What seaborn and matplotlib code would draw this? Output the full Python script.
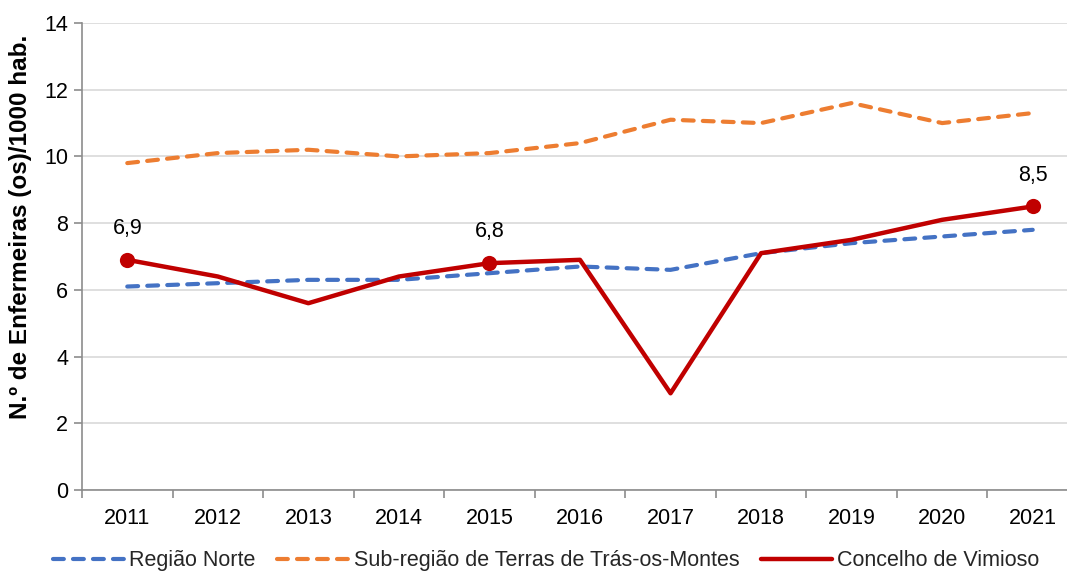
import matplotlib
matplotlib.use("Agg")
import matplotlib.pyplot as plt
from matplotlib.ticker import FixedLocator, MultipleLocator, NullFormatter
import seaborn as sns
import pandas as pd

# Enfermeiros(as) por 1000 habitantes
anos = ["2011", "2012", "2013", "2014", "2015", "2016", "2017", "2018", "2019", "2020", "2021"]
regiao_norte = [6.1, 6.2, 6.3, 6.3, 6.5, 6.7, 6.6, 7.1, 7.4, 7.6, 7.8]
terras_tras_os_montes = [9.8, 10.1, 10.2, 10.0, 10.1, 10.4, 11.1, 11.0, 11.6, 11.0, 11.3]
vimioso = [6.9, 6.4, 5.6, 6.4, 6.8, 6.9, 2.9, 7.1, 7.5, 8.1, 8.5]
anos_destacados = ["2011", "2015", "2021"]

series_nomes = ["Região Norte", "Sub-região de Terras de Trás-os-Montes", "Concelho de Vimioso"]
cores = ["#4472C4", "#ED7D31", "#C00000"]

sns.set_theme(style="white")
plt.rcParams["font.family"] = ["Liberation Sans", "DejaVu Sans"]

fig = plt.figure(figsize=(10.67, 5.72), dpi=100)
ax = fig.add_axes([82 / 1067, 82 / 572, 996 / 1067, 467 / 572])

pos = list(range(len(anos)))
df = pd.DataFrame({
    "pos": pos,
    "ano": anos,
    "norte": regiao_norte,
    "tmt": terras_tras_os_montes,
    "vimioso": vimioso,
})

tracejado = dict(linewidth=3.0, linestyle=(0, (2.6, 2.2)), dash_capstyle="round")
sns.lineplot(data=df, x="pos", y="norte", ax=ax, color=cores[0], label=series_nomes[0], **tracejado)
sns.lineplot(data=df, x="pos", y="tmt", ax=ax, color=cores[1], label=series_nomes[1], **tracejado)
sns.lineplot(data=df, x="pos", y="vimioso", ax=ax, color=cores[2], linewidth=3.2,
             label=series_nomes[2])

destaque = df[df["ano"].isin(anos_destacados)]
sns.scatterplot(data=destaque, x="pos", y="vimioso", ax=ax, color=cores[2], s=120,
                edgecolor=cores[2], linewidth=0, legend=False, zorder=5)
for _, row in destaque.iterrows():
    ax.annotate(f"{row['vimioso']:.1f}".replace(".", ","), (row["pos"], row["vimioso"]),
                xytext=(0, 15), textcoords="offset points", ha="center", va="bottom",
                fontsize=15.5, color="#000000")

ax.set_xlim(-0.5, len(anos) - 0.5)
ax.set_ylim(0, 14)
ax.yaxis.set_major_locator(MultipleLocator(2))
ax.set_xticks(pos)
ax.set_xticklabels(anos)
ax.xaxis.set_minor_locator(FixedLocator([p - 0.5 for p in pos] + [len(anos) - 0.5]))
ax.xaxis.set_minor_formatter(NullFormatter())
ax.tick_params(axis="x", which="major", length=0, pad=13, labelsize=15.5, colors="#000000")
ax.tick_params(axis="x", which="minor", length=6, width=1.2, color="#8c8c8c", direction="out", bottom=True)
ax.tick_params(axis="y", which="major", length=6, width=1.2, color="#8c8c8c", direction="out",
               left=True, pad=4, labelsize=15.5, labelcolor="#000000")

ax.grid(axis="y", color="#d9d9d9", linewidth=1.2)
ax.set_axisbelow(True)
for side in ["top", "right"]:
    ax.spines[side].set_visible(False)
for side in ["left", "bottom"]:
    ax.spines[side].set_color("#8c8c8c")
    ax.spines[side].set_linewidth(1.2)

ax.set_xlabel("")
ax.set_ylabel("N.º de Enfermeiras (os)/1000 hab.", fontsize=17.5, fontweight="bold",
              color="#000000")
ax.yaxis.set_label_coords(-0.05, 0.563)

leg = ax.legend(loc="center left", bbox_to_anchor=(-29 / 996, -0.152), ncol=3, frameon=False,
                fontsize=15.5, handlelength=3.3, handletextpad=0.25, columnspacing=1.0,
                borderaxespad=0, borderpad=0)

fig.savefig("out.png", dpi=100)
